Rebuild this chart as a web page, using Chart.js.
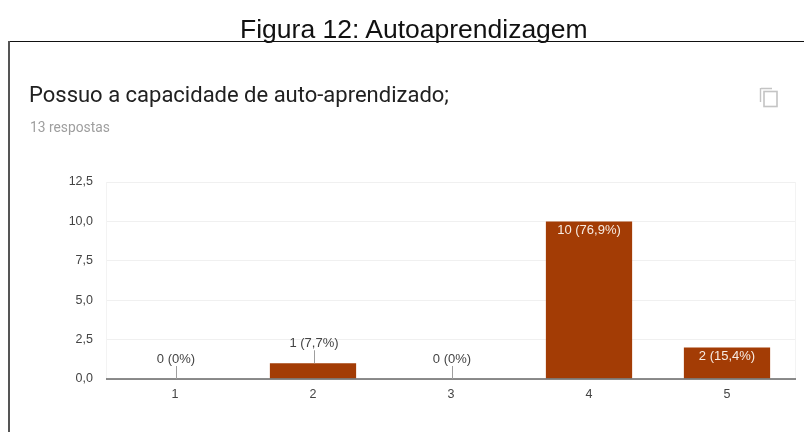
<!DOCTYPE html>
<html lang="pt">
<head>
<meta charset="utf-8">
<script src="https://cdn.jsdelivr.net/npm/chart.js@4/dist/chart.umd.min.js"></script>
<style>
html,body{margin:0;padding:0;background:#fff;width:804px;height:432px;overflow:hidden}
#wrap{position:relative;width:804px;height:432px}
canvas{position:absolute;left:0;top:0}
.t{position:absolute;white-space:nowrap;line-height:1}
#fig{left:240px;top:16px;font:26.5px/1 "Liberation Sans",Arial,sans-serif;color:#111}
#q{left:29px;top:84px;font:22px/1 Roboto,sans-serif;color:#212121}
#n{left:30px;top:121px;font:13.8px/1 Roboto,sans-serif;color:#9e9e9e}
#top{position:absolute;left:8px;top:41px;width:796px;height:1px;background:#111}
#side{position:absolute;left:8px;top:41px;width:2px;height:391px;background:#555}
#icon{position:absolute;left:759px;top:87px}
</style>
</head>
<body>
<div id="wrap">
<canvas id="c" width="804" height="432"></canvas>
<div id="top"></div><div id="side"></div>
<div class="t" id="fig">Figura 12: Autoaprendizagem</div>
<div class="t" id="q">Possuo a capacidade de auto-aprendizado;</div>
<div class="t" id="n">13 respostas</div>
<svg id="icon" width="20" height="21" viewBox="0 0 20 21"><path d="M2 1.5h11M1.5 1v14" stroke="#c4c4c4" stroke-width="1.4" fill="none"/><rect x="5" y="4.5" width="13" height="15" fill="none" stroke="#c4c4c4" stroke-width="1.6"/></svg>
</div>
<script>
const categories = ['1','2','3','4','5'];
const counts = [0,1,0,10,2];
const valueLabels = ['0 (0%)','1 (7,7%)','0 (0%)','10 (76,9%)','2 (15,4%)'];
const yTicks = [0,2.5,5,7.5,10,12.5];

const FONT = '"Liberation Sans", Arial, sans-serif';
const labelsPlugin = {
  id:'valueLabels',
  afterDatasetsDraw(chart){
    const {ctx,scales:{x,y},chartArea:a}=chart;
    ctx.save();
    ctx.strokeStyle='#f3f3f3';ctx.lineWidth=1;
    ctx.beginPath();
    ctx.moveTo(a.left+.5,a.top);ctx.lineTo(a.left+.5,a.bottom);
    ctx.moveTo(a.right-.5,a.top);ctx.lineTo(a.right-.5,a.bottom);
    ctx.stroke();
    ctx.strokeStyle='#666';ctx.lineWidth=1.5;
    ctx.beginPath();ctx.moveTo(a.left,y.getPixelForValue(0));ctx.lineTo(a.right,y.getPixelForValue(0));ctx.stroke();
    ctx.font='13px '+FONT;ctx.textAlign='center';ctx.textBaseline='middle';
    counts.forEach((v,i)=>{
      const px=x.getPixelForValue(i),py=y.getPixelForValue(v);
      if(v>=2){
        ctx.fillStyle='#f7ece4';
        ctx.fillText(valueLabels[i],px,py+9);
      }else{
        ctx.strokeStyle='#9e9e9e';ctx.lineWidth=1;
        ctx.beginPath();ctx.moveTo(Math.round(px)+1.5,py);ctx.lineTo(Math.round(px)+1.5,py-13);ctx.stroke();
        ctx.fillStyle='#444';
        ctx.fillText(valueLabels[i],px+1,py-20);
      }
    });
    ctx.restore();
  }
};
new Chart(document.getElementById('c'),{
  type:'bar',
  data:{labels:categories,datasets:[{data:counts,backgroundColor:'#a33c05',borderWidth:0,barPercentage:1,categoryPercentage:0.625}]},
  plugins:[labelsPlugin],
  options:{
    responsive:false,animation:false,
    layout:{padding:{left:0,right:8,top:182,bottom:0}},
    plugins:{legend:{display:false},tooltip:{enabled:false},title:{display:false}},
    scales:{
      x:{
        grid:{display:false},border:{display:false},
        ticks:{color:'#444',font:{family:FONT,size:12.5},padding:0,maxRotation:0},
        afterFit(s){s.height=53;}
      },
      y:{
        min:0,max:12.5,
        afterBuildTicks(s){s.ticks=yTicks.map(v=>({value:v}));},
        grid:{color:'#f0f0f0',lineWidth:1,drawTicks:false},border:{display:false},
        ticks:{color:'#444',font:{family:FONT,size:12.5},padding:13,
          callback:v=>v.toFixed(1).replace('.',',')},
        afterFit(s){s.width=106;}
      }
    }
  }
});
</script>
</body>
</html>
